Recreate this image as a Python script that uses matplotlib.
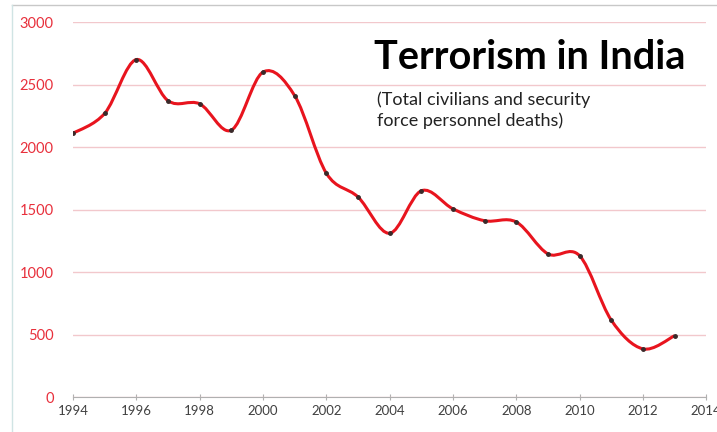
import matplotlib.pyplot as plt
from matplotlib.path import Path
from matplotlib.patches import PathPatch
from matplotlib.lines import Line2D
import numpy as np

years = [1994, 1995, 1996, 1997, 1998, 1999, 2000, 2001, 2002, 2003,
         2004, 2005, 2006, 2007, 2008, 2009, 2010, 2011, 2012, 2013]
deaths = [2110, 2270, 2700, 2370, 2345, 2135, 2600, 2410, 1790, 1600,
          1310, 1650, 1505, 1410, 1400, 1145, 1130, 615, 385, 490]
yticks = [0, 500, 1000, 1500, 2000, 2500, 3000]
xticks = list(range(1994, 2016, 2))

plt.rcParams['font.family'] = ['Lato', 'DejaVu Sans']

fig = plt.figure(figsize=(7.17, 4.32), dpi=100)
ax = fig.add_axes([0.102, 0.081, 0.883, 0.868])

# smooth curve like Excel (cardinal spline -> cubic bezier)
x = np.array(years, dtype=float)
y = np.array(deaths, dtype=float)
verts = [(x[0], y[0])]
codes = [Path.MOVETO]
t = 1.0 / 6
for i in range(len(x) - 1):
    x0, y0 = (x[i - 1], y[i - 1]) if i > 0 else (x[i], y[i])
    x3, y3 = (x[i + 2], y[i + 2]) if i + 2 < len(x) else (x[i + 1], y[i + 1])
    c1 = (x[i] + (x[i + 1] - x0) * t, y[i] + (y[i + 1] - y0) * t)
    c2 = (x[i + 1] - (x3 - x[i]) * t, y[i + 1] - (y3 - y[i]) * t)
    verts += [c1, c2, (x[i + 1], y[i + 1])]
    codes += [Path.CURVE4] * 3
ax.add_patch(PathPatch(Path(verts, codes), fill=False, edgecolor='#e8141e', lw=2.2, zorder=3))
ax.plot(years, deaths, 'o', color='#3a2a2a', ms=2.5, zorder=4)

ax.set_xlim(1994, 2014)
ax.set_ylim(0, 3000)
ax.set_xticks(xticks)
ax.set_yticks(yticks)
ax.grid(axis='y', color='#f2c8cc', lw=1)
ax.set_axisbelow(True)
for s in ['top', 'right', 'left']:
    ax.spines[s].set_visible(False)
ax.spines['bottom'].set_color('#b0b0b0')
ax.tick_params(axis='y', length=0, labelcolor='#e8303c', labelsize=10.5, pad=14)
ax.tick_params(axis='x', length=4, direction='inout', color='#b0b0b0',
               labelcolor='#404040', labelsize=9.5, pad=4)

# faint frame of the original image
fig.add_artist(Line2D([0.017, 1.0], [0.988, 0.988], transform=fig.transFigure, color='#c8c8c8', lw=1))
fig.add_artist(Line2D([0.017, 0.017], [0.0, 0.988], transform=fig.transFigure, color='#d0e4e4', lw=1))

fig.text(0.521, 0.866, 'Terrorism in India', fontsize=28.5, fontweight='bold', color='black', va='center')
fig.text(0.526, 0.745, '(Total civilians and security\nforce personnel deaths)', fontsize=13,
         color='#222222', va='center', linespacing=1.3)

fig.savefig('out.png', dpi=100)
